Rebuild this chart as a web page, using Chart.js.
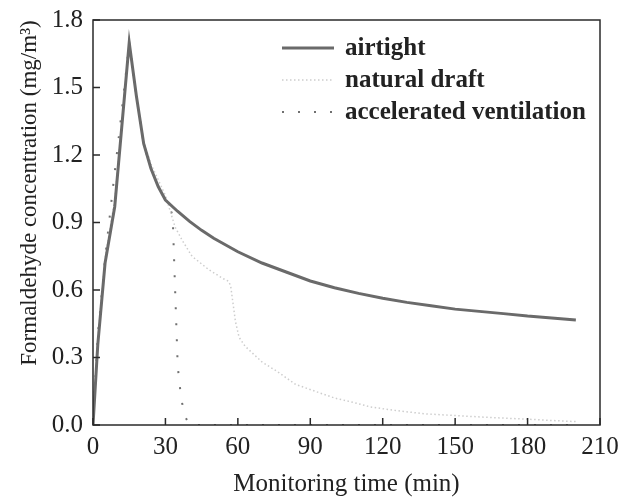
<!DOCTYPE html>
<html>
<head>
<meta charset="utf-8">
<script src="https://cdn.jsdelivr.net/npm/chart.js@4"></script>
<style>
  html, body { margin: 0; padding: 0; background: #fff; }
  #wrap { width: 621px; height: 499px; }
</style>
</head>
<body>
<div id="wrap"><canvas id="hchoChart" width="621" height="499"></canvas></div>
<script>
// Formaldehyde concentration vs monitoring time
let airtightTime = [0, 2, 5, 9, 15, 18, 21, 24, 27, 30, 35, 40, 45, 50, 55, 60, 70, 80, 90, 100, 110, 120, 130, 140, 150, 160, 170, 180, 190, 200];
let airtightConc = [0, 0.36, 0.72, 0.97, 1.70, 1.46, 1.25, 1.14, 1.06, 1.00, 0.95, 0.905, 0.865, 0.83, 0.80, 0.77, 0.72, 0.68, 0.64, 0.61, 0.585, 0.563, 0.545, 0.53, 0.515, 0.505, 0.495, 0.484, 0.476, 0.467];

let naturalTime = [0, 2, 5, 9, 15, 18, 21, 24, 27, 30, 32, 34, 37, 41, 48, 54, 56, 57, 58, 59, 60.5, 63, 66, 70, 76, 84, 92, 100, 108, 115, 125, 137, 150, 165, 180, 190, 200];
let naturalConc = [0, 0.38, 0.74, 1.00, 1.70, 1.46, 1.26, 1.16, 1.09, 1.02, 0.95, 0.88, 0.82, 0.75, 0.69, 0.65, 0.64, 0.62, 0.54, 0.46, 0.39, 0.35, 0.32, 0.28, 0.24, 0.18, 0.15, 0.12, 0.10, 0.08, 0.065, 0.05, 0.042, 0.033, 0.026, 0.02, 0.015];

let accelTime = [0, 2, 5, 8, 11, 13, 15, 18, 21, 24, 27, 30, 32, 33, 33.7, 34.4, 35.1, 36.5, 38, 40, 60, 80, 100, 120, 140, 160, 180, 200];
let accelConc = [0, 0.40, 0.74, 1.03, 1.31, 1.50, 1.70, 1.46, 1.25, 1.14, 1.06, 1.00, 0.96, 0.93, 0.70, 0.48, 0.26, 0.12, 0.04, 0, 0, 0, 0, 0, 0, 0, 0, 0];

let xTicks = [0, 30, 60, 90, 120, 150, 180, 210];
let yTicks = [0.0, 0.3, 0.6, 0.9, 1.2, 1.5, 1.8];
let yTitle = 'Formaldehyde concentration (mg/m³)';

function toPoints(xs, ys) {
  return xs.map(function (x, i) { return { x: x, y: ys[i] }; });
}

let serif = "'Liberation Serif', 'Times New Roman', serif";
let axisColor = '#2a2a2a';

// frame, inward ticks, y title and in-plot legend
let framePlugin = {
  id: 'frame',
  afterDraw: function (chart) {
    let ctx = chart.ctx;
    let a = chart.chartArea;
    let xs = chart.scales.x;
    let ys = chart.scales.y;
    ctx.save();
    ctx.strokeStyle = axisColor;
    ctx.lineWidth = 1.5;
    ctx.strokeRect(a.left, a.top, a.right - a.left, a.bottom - a.top);
    ctx.beginPath();
    xTicks.forEach(function (t) {
      let px = xs.getPixelForValue(t);
      ctx.moveTo(px, a.bottom);
      ctx.lineTo(px, a.bottom - 7);
    });
    yTicks.forEach(function (t) {
      let py = ys.getPixelForValue(t);
      ctx.moveTo(a.left, py);
      ctx.lineTo(a.left + 7, py);
    });
    ctx.stroke();

    // y axis title, sits a bit above the plot centre
    ctx.save();
    ctx.translate(30, 193);
    ctx.rotate(-Math.PI / 2);
    ctx.fillStyle = '#222';
    ctx.font = '23px ' + serif;
    ctx.textAlign = 'center';
    ctx.textBaseline = 'middle';
    ctx.fillText(yTitle, 0, 0);
    ctx.restore();

    // legend
    let lx = 282, tx = 345, rowY = [48, 80, 112];
    chart.data.datasets.forEach(function (ds, i) {
      ctx.beginPath();
      ctx.strokeStyle = ds.borderColor;
      ctx.lineWidth = ds.borderWidth;
      ctx.setLineDash(ds.borderDash || []);
      ctx.moveTo(lx, rowY[i]);
      ctx.lineTo(lx + 52, rowY[i]);
      ctx.stroke();
      ctx.setLineDash([]);
      ctx.fillStyle = '#222';
      ctx.font = 'bold 25px ' + serif;
      ctx.textAlign = 'left';
      ctx.textBaseline = 'middle';
      ctx.fillText(ds.label, tx, rowY[i] + 0.5);
    });
    ctx.restore();
  }
};

let hchoCanvas = document.getElementById('hchoChart');
let hchoChart = new Chart(hchoCanvas, {
  type: 'line',
  data: {
    datasets: [{
      label: 'airtight',
      data: toPoints(airtightTime, airtightConc),
      borderColor: '#6a6a6a',
      borderWidth: 3,
      pointRadius: 0,
      tension: 0
    },
    {
      label: 'natural draft',
      data: toPoints(naturalTime, naturalConc),
      borderColor: '#cdcdcd',
      borderWidth: 1.5,
      borderDash: [1.5, 2.5],
      pointRadius: 0,
      tension: 0
    },
    {
      label: 'accelerated ventilation',
      data: toPoints(accelTime, accelConc),
      borderColor: '#707070',
      borderWidth: 2,
      borderDash: [2, 14],
      pointRadius: 0,
      tension: 0
    }
    ]
  },
  options: {
    responsive: false,
    animation: false,
    layout: { padding: { left: 0, top: 20, right: 21, bottom: 0 } },
    plugins: {
      legend: { display: false },
      tooltip: { enabled: false }
    },
    scales: {
      x: {
        type: 'linear',
        min: 0,
        max: 210,
        afterBuildTicks: function (scale) {
          scale.ticks = xTicks.map(function (v) { return { value: v }; });
        },
        afterFit: function (scale) {
          scale.height = 74;
          scale.paddingLeft = 0;
          scale.paddingRight = 0;
        },
        grid: { display: false, drawTicks: false },
        border: { display: false },
        ticks: {
          padding: 7,
          color: '#222',
          font: { family: serif, size: 25 },
          callback: function (v) { return String(v); }
        },
        title: {
          display: true,
          text: 'Monitoring time (min)',
          color: '#222',
          font: { family: serif, size: 25 },
          padding: { top: 0, bottom: 0 }
        }
      },
      y: {
        type: 'linear',
        min: 0,
        max: 1.8,
        afterBuildTicks: function (scale) {
          scale.ticks = yTicks.map(function (v) { return { value: v }; });
        },
        afterFit: function (scale) {
          scale.width = 93;
          scale.paddingTop = 0;
          scale.paddingBottom = 0;
        },
        grid: { display: false, drawTicks: false },
        border: { display: false },
        ticks: {
          padding: 10,
          color: '#222',
          font: { family: serif, size: 25 },
          callback: function (v) { return Number(v).toFixed(1); }
        },
        title: { display: false }
      }
    }
  },
  plugins: [framePlugin]
});
</script>
</body>
</html>
